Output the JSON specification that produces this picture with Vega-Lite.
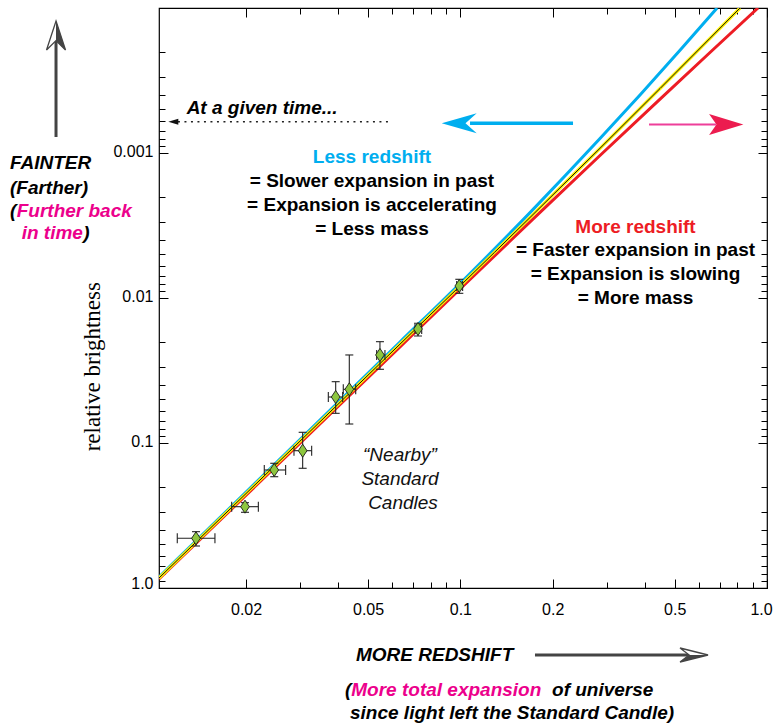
{
  "$schema": "https://vega.github.io/schema/vega-lite/v6.json",
  "width": 608,
  "height": 580,
  "autosize": {"type": "none"},
  "padding": {"left": 159, "top": 8, "right": 7, "bottom": 137},
  "background": "white",
  "config": {
    "view": {"stroke": "black", "strokeWidth": 1.2},
    "font": "Liberation Sans",
    "text": {"font": "Liberation Sans"}
  },
  "datasets": {
    "sn": [
      {"z": 0.01373, "zlo": 0.01193, "zhi": 0.01583, "b": 0.4542, "blo": 0.4089, "bhi": 0.5133},
      {"z": 0.01984, "zlo": 0.01795, "zhi": 0.02193, "b": 0.2749, "blo": 0.2580, "bhi": 0.3005},
      {"z": 0.02471, "zlo": 0.02293, "zhi": 0.02692, "b": 0.1535, "blo": 0.1380, "bhi": 0.1708},
      {"z": 0.03059, "zlo": 0.02866, "zhi": 0.03273, "b": 0.1130, "blo": 0.08437, "bhi": 0.1494},
      {"z": 0.03920, "zlo": 0.03709, "zhi": 0.04131, "b": 0.04817, "blo": 0.03777, "bhi": 0.06241},
      {"z": 0.04342, "zlo": 0.04150, "zhi": 0.04556, "b": 0.04263, "blo": 0.02471, "bhi": 0.07396},
      {"z": 0.05466, "zlo": 0.05333, "zhi": 0.05675, "b": 0.02471, "blo": 0.02001, "bhi": 0.03102},
      {"z": 0.07273, "zlo": 0.07112, "zhi": 0.07478, "b": 0.01636, "blo": 0.01494, "bhi": 0.01829},
      {"z": 0.09920, "zlo": 0.09727, "zhi": 0.1017, "b": 0.008264, "blo": 0.007430, "bhi": 0.009281}
    ],
    "curves": [
      {"model": "accelerating", "z": 0.0104, "b": 0.8396},
      {"model": "accelerating", "z": 0.02998, "b": 0.09461},
      {"model": "accelerating", "z": 0.06353, "b": 0.02010},
      {"model": "accelerating", "z": 0.09897, "b": 0.00807},
      {"model": "accelerating", "z": 0.1687, "b": 0.002576},
      {"model": "accelerating", "z": 0.2853, "b": 0.0007956},
      {"model": "accelerating", "z": 0.3853, "b": 0.0003975},
      {"model": "accelerating", "z": 0.5203, "b": 0.0001954},
      {"model": "accelerating", "z": 0.6871, "b": 0.0001},
      {"model": "bestfit", "z": 0.0104, "b": 0.8531},
      {"model": "bestfit", "z": 0.02998, "b": 0.09718},
      {"model": "bestfit", "z": 0.06353, "b": 0.02082},
      {"model": "bestfit", "z": 0.09897, "b": 0.008395},
      {"model": "bestfit", "z": 0.1687, "b": 0.002785},
      {"model": "bestfit", "z": 0.2853, "b": 0.0009281},
      {"model": "bestfit", "z": 0.4479, "b": 0.0003591},
      {"model": "bestfit", "z": 0.6517, "b": 0.0001618},
      {"model": "bestfit", "z": 0.8166, "b": 0.0001},
      {"model": "decelerating", "z": 0.0104, "b": 0.8669},
      {"model": "decelerating", "z": 0.02998, "b": 0.1003},
      {"model": "decelerating", "z": 0.06353, "b": 0.02174},
      {"model": "decelerating", "z": 0.09897, "b": 0.008806},
      {"model": "decelerating", "z": 0.1687, "b": 0.002987},
      {"model": "decelerating", "z": 0.2853, "b": 0.00104},
      {"model": "decelerating", "z": 0.4479, "b": 0.0004249},
      {"model": "decelerating", "z": 0.6517, "b": 0.0002027},
      {"model": "decelerating", "z": 0.9348, "b": 0.0001}
    ],
    "notes": [
      {"role": "eq", "text": "= Slower expansion in past", "z": 0.05148, "b": 0.001560},
      {"role": "eq", "text": "= Expansion is accelerating", "z": 0.05148, "b": 0.002284},
      {"role": "eq", "text": "= Less mass", "z": 0.05148, "b": 0.003343},
      {"role": "eq", "text": "= Faster expansion in past", "z": 0.3725, "b": 0.004667},
      {"role": "eq", "text": "= Expansion is slowing", "z": 0.3725, "b": 0.006832},
      {"role": "eq", "text": "= More mass", "z": 0.3725, "b": 0.01},
      {"role": "less", "text": "Less redshift", "z": 0.05148, "b": 0.001066},
      {"role": "more", "text": "More redshift", "z": 0.3725, "b": 0.003237},
      {"role": "nearby", "text": "\u201cNearby\u201d", "z": 0.06353, "b": 0.121},
      {"role": "nearby", "text": "Standard", "z": 0.06353, "b": 0.1779},
      {"role": "nearby", "text": "Candles", "z": 0.06499, "b": 0.258},
      {"role": "note", "text": "At a given time...", "z": 0.0128, "b": 0.0004895},
      {"role": "note", "text": "FAINTER", "z": 0.003396, "b": 0.001172},
      {"role": "note", "text": "(Farther)", "z": 0.003396, "b": 0.001743},
      {"role": "note", "text": "(", "z": 0.003396, "b": 0.0025},
      {"role": "note", "text": ")", "z": 0.005891, "b": 0.003562},
      {"role": "note", "text": "MORE REDSHIFT", "z": 0.04565, "b": 2.898},
      {"role": "note", "text": "(", "z": 0.04204, "b": 5.051},
      {"role": "note", "text": "of universe", "z": 0.199, "b": 5.051},
      {"role": "note", "text": "since light left the Standard Candle)", "z": 0.04365, "b": 7.278},
      {"role": "pink", "text": "Further back", "z": 0.003572, "b": 0.0025},
      {"role": "pink", "text": "in time", "z": 0.003709, "b": 0.003562},
      {"role": "pink", "text": "More total expansion", "z": 0.04407, "b": 5.051},
      {"role": "ytitle", "text": "relative brightness", "z": 0.006321, "b": 0.02977}
    ],
    "shafts": [
      {"name": "up", "z": 0.004799, "z2": 0.004799, "b": 0.000776, "b2": 0.0001662},
      {"name": "redshift", "z": 0.1751, "z2": 0.5609, "b": 2.898, "b2": 2.898},
      {"name": "blue", "z": 0.2330, "z2": 0.1075, "b": 0.0006241, "b2": 0.0006241},
      {"name": "pink", "z": 0.4123, "z2": 0.6822, "b": 0.000637, "b2": 0.000637},
      {"name": "dotted", "z": 0.01199, "z2": 0.05805, "b": 0.0006082, "b2": 0.0006082}
    ],
    "heads": [
      {"name": "up", "z": 0.004799, "b": 0.0001547},
      {"name": "redshift", "z": 0.5781, "b": 2.898},
      {"name": "blue", "z": 0.09911, "b": 0.0006241},
      {"name": "pink", "z": 0.7362, "b": 0.0006359},
      {"name": "dotted", "z": 0.01158, "b": 0.0006082}
    ]
  },
  "resolve": {"axis": {"x": "independent", "y": "independent"}},
  "encoding": {
    "x": {"field": "z", "type": "quantitative", "scale": {"type": "log", "domain": [0.0104, 1], "nice": false}, "axis": null},
    "y": {"field": "b", "type": "quantitative", "scale": {"type": "log", "domain": [0.0001, 1], "nice": false, "reverse": true}, "axis": null}
  },
  "layer": [
    {
      "data": {"name": "curves"},
      "transform": [{"filter": "datum.model == 'accelerating'"}],
      "mark": {"type": "line", "color": "#00AEEF", "strokeWidth": 3, "clip": true, "interpolate": "monotone"},
      "encoding": {
        "x": {"field": "z", "type": "quantitative", "scale": {"type": "log", "domain": [0.0104, 1], "nice": false},
          "axis": {"orient": "bottom", "title": null, "domain": false, "grid": false,
            "values": [0.02, 0.03, 0.04, 0.05, 0.06, 0.07, 0.08, 0.09, 0.1, 0.2, 0.3, 0.4, 0.5, 0.6, 0.7, 0.8, 0.9, 1],
            "labelExpr": "datum.value == 1 ? '1.0' : datum.value == 0.5 ? '0.5' : datum.value == 0.2 ? '0.2' : datum.value == 0.1 ? '0.1' : datum.value == 0.05 ? '0.05' : datum.value == 0.02 ? '0.02' : ''",
            "tickSize": {"condition": {"test": "datum.value == 0.02 || datum.value == 0.05 || datum.value == 0.1 || datum.value == 0.2 || datum.value == 0.5 || datum.value == 1", "value": -9}, "value": -6},
            "labelOffset": {"condition": {"test": "datum.value == 1", "value": -6}, "value": 0},
            "tickColor": "black", "tickWidth": 1, "labelFont": "Liberation Sans", "labelFontSize": 16, "labelColor": "black",
            "labelPadding": 22, "labelOverlap": false, "labelFlush": false}},
        "y": {"field": "b", "type": "quantitative", "scale": {"type": "log", "domain": [0.0001, 1], "nice": false, "reverse": true},
          "axis": {"orient": "left", "title": null, "domain": false, "grid": false,
            "values": [0.0002, 0.0003, 0.0004, 0.0005, 0.0006, 0.0007, 0.0008, 0.0009, 0.001, 0.002, 0.003, 0.004, 0.005, 0.006, 0.007, 0.008, 0.009, 0.01, 0.02, 0.03, 0.04, 0.05, 0.06, 0.07, 0.08, 0.09, 0.1, 0.2, 0.3, 0.4, 0.5, 0.6, 0.7, 0.8, 0.9, 1],
            "labelExpr": "datum.value == 1 ? '1.0' : datum.value == 0.1 ? '0.1' : datum.value == 0.01 ? '0.01' : datum.value == 0.001 ? '0.001' : ''",
            "tickSize": {"condition": {"test": "datum.value == 0.001 || datum.value == 0.01 || datum.value == 0.1 || datum.value == 1", "value": -9}, "value": -6},
            "labelOffset": {"condition": {"test": "datum.value == 1", "value": -5}, "value": -2},
            "tickColor": "black", "tickWidth": 1, "labelFont": "Liberation Sans", "labelFontSize": 16, "labelColor": "black",
            "labelPadding": 15, "labelOverlap": false, "labelFlush": false}}
      }
    },
    {
      "data": {"name": "curves"},
      "transform": [{"filter": "datum.model == 'decelerating'"}],
      "mark": {"type": "line", "color": "#ED1C24", "strokeWidth": 3, "clip": true, "interpolate": "monotone"},
      "encoding": {
        "x": {"field": "z", "type": "quantitative", "scale": {"type": "log", "domain": [0.0104, 1], "nice": false},
          "axis": {"orient": "top", "title": null, "domain": false, "grid": false, "labels": false,
            "values": [0.02, 0.03, 0.04, 0.05, 0.06, 0.07, 0.08, 0.09, 0.1, 0.2, 0.3, 0.4, 0.5, 0.6, 0.7, 0.8, 0.9, 1],
            "tickSize": {"condition": {"test": "datum.value == 0.02 || datum.value == 0.05 || datum.value == 0.1 || datum.value == 0.2 || datum.value == 0.5 || datum.value == 1", "value": -9}, "value": -6},
            "tickColor": "black", "tickWidth": 1}},
        "y": {"field": "b", "type": "quantitative", "scale": {"type": "log", "domain": [0.0001, 1], "nice": false, "reverse": true},
          "axis": {"orient": "right", "title": null, "domain": false, "grid": false, "labels": false,
            "values": [0.0002, 0.0003, 0.0004, 0.0005, 0.0006, 0.0007, 0.0008, 0.0009, 0.001, 0.002, 0.003, 0.004, 0.005, 0.006, 0.007, 0.008, 0.009, 0.01, 0.02, 0.03, 0.04, 0.05, 0.06, 0.07, 0.08, 0.09, 0.1, 0.2, 0.3, 0.4, 0.5, 0.6, 0.7, 0.8, 0.9, 1],
            "tickSize": {"condition": {"test": "datum.value == 0.001 || datum.value == 0.01 || datum.value == 0.1 || datum.value == 1", "value": -9}, "value": -6},
            "tickColor": "black", "tickWidth": 1}}
      }
    },
    {
      "data": {"name": "curves"},
      "transform": [{"filter": "datum.model == 'bestfit'"}],
      "mark": {"type": "line", "color": "#FFF200", "strokeWidth": 3.2, "clip": true, "interpolate": "monotone"}
    },
    {
      "data": {"name": "curves"},
      "transform": [{"filter": "datum.model == 'bestfit'"}],
      "mark": {"type": "line", "color": "#111111", "strokeWidth": 1, "clip": true, "interpolate": "monotone"}
    },
    {
      "data": {"name": "sn"},
      "mark": {"type": "rule", "color": "#222222", "strokeWidth": 1.1},
      "encoding": {
        "x": {"field": "zlo", "type": "quantitative", "scale": {"type": "log", "domain": [0.0104, 1], "nice": false}, "axis": null},
        "x2": {"field": "zhi"}
      }
    },
    {
      "data": {"name": "sn"},
      "mark": {"type": "rule", "color": "#222222", "strokeWidth": 1.1},
      "encoding": {
        "y": {"field": "blo", "type": "quantitative", "scale": {"type": "log", "domain": [0.0001, 1], "nice": false, "reverse": true}, "axis": null},
        "y2": {"field": "bhi"}
      }
    },
    {
      "data": {"name": "sn"},
      "mark": {"type": "tick", "orient": "vertical", "color": "#222222", "thickness": 1.1, "size": 10, "opacity": 1},
      "encoding": {
        "x": {"field": "zlo", "type": "quantitative", "scale": {"type": "log", "domain": [0.0104, 1], "nice": false}, "axis": null}
      }
    },
    {
      "data": {"name": "sn"},
      "mark": {"type": "tick", "orient": "vertical", "color": "#222222", "thickness": 1.1, "size": 10, "opacity": 1},
      "encoding": {
        "x": {"field": "zhi", "type": "quantitative", "scale": {"type": "log", "domain": [0.0104, 1], "nice": false}, "axis": null}
      }
    },
    {
      "data": {"name": "sn"},
      "mark": {"type": "tick", "orient": "horizontal", "color": "#222222", "thickness": 1.1, "size": 8, "opacity": 1},
      "encoding": {
        "y": {"field": "blo", "type": "quantitative", "scale": {"type": "log", "domain": [0.0001, 1], "nice": false, "reverse": true}, "axis": null}
      }
    },
    {
      "data": {"name": "sn"},
      "mark": {"type": "tick", "orient": "horizontal", "color": "#222222", "thickness": 1.1, "size": 8, "opacity": 1},
      "encoding": {
        "y": {"field": "bhi", "type": "quantitative", "scale": {"type": "log", "domain": [0.0001, 1], "nice": false, "reverse": true}, "axis": null}
      }
    },
    {
      "data": {"name": "sn"},
      "mark": {"type": "point", "shape": "M0,-1 L0.67,0 L0,1 L-0.67,0 Z", "size": 170, "filled": true, "fill": "#8DC63F", "stroke": "#1a1a1a", "strokeWidth": 0.9, "opacity": 1}
    },
    {
      "data": {"name": "notes"},
      "transform": [{"filter": "datum.role == 'eq'"}],
      "mark": {"type": "text", "font": "Liberation Sans", "fontSize": 19, "fontWeight": "bold", "color": "black", "align": "center", "baseline": "middle"},
      "encoding": {"text": {"field": "text"}}
    },
    {
      "data": {"name": "notes"},
      "transform": [{"filter": "datum.role == 'less'"}],
      "mark": {"type": "text", "font": "Liberation Sans", "fontSize": 19, "fontWeight": "bold", "color": "#00AEEF", "align": "center", "baseline": "middle"},
      "encoding": {"text": {"field": "text"}}
    },
    {
      "data": {"name": "notes"},
      "transform": [{"filter": "datum.role == 'more'"}],
      "mark": {"type": "text", "font": "Liberation Sans", "fontSize": 19, "fontWeight": "bold", "color": "#ED1C24", "align": "center", "baseline": "middle"},
      "encoding": {"text": {"field": "text"}}
    },
    {
      "data": {"name": "notes"},
      "transform": [{"filter": "datum.role == 'nearby'"}],
      "mark": {"type": "text", "font": "Liberation Sans", "fontSize": 19, "fontStyle": "italic", "color": "#111111", "align": "center", "baseline": "middle"},
      "encoding": {"text": {"field": "text"}}
    },
    {
      "data": {"name": "notes"},
      "transform": [{"filter": "datum.role == 'note'"}],
      "mark": {"type": "text", "font": "Liberation Sans", "fontSize": 19, "fontWeight": "bold", "fontStyle": "italic", "color": "black", "align": "left", "baseline": "middle"},
      "encoding": {"text": {"field": "text"}}
    },
    {
      "data": {"name": "notes"},
      "transform": [{"filter": "datum.role == 'pink'"}],
      "mark": {"type": "text", "font": "Liberation Sans", "fontSize": 19, "fontWeight": "bold", "fontStyle": "italic", "color": "#EC008C", "align": "left", "baseline": "middle"},
      "encoding": {"text": {"field": "text"}}
    },
    {
      "data": {"name": "notes"},
      "transform": [{"filter": "datum.role == 'ytitle'"}],
      "mark": {"type": "text", "font": "Liberation Serif", "fontSize": 23, "color": "black", "align": "center", "baseline": "middle", "angle": 270},
      "encoding": {"text": {"field": "text"}}
    },
    {
      "data": {"name": "shafts"},
      "transform": [{"filter": "datum.name == 'up' || datum.name == 'redshift'"}],
      "mark": {"type": "rule", "color": "#444444", "strokeWidth": 3},
      "encoding": {"x2": {"field": "z2"}, "y2": {"field": "b2"}}
    },
    {
      "data": {"name": "shafts"},
      "transform": [{"filter": "datum.name == 'blue'"}],
      "mark": {"type": "rule", "color": "#00AEEF", "strokeWidth": 3.5},
      "encoding": {"x2": {"field": "z2"}, "y2": {"field": "b2"}}
    },
    {
      "data": {"name": "shafts"},
      "transform": [{"filter": "datum.name == 'pink'"}],
      "mark": {"type": "rule", "color": "#EE3F9A", "strokeWidth": 2},
      "encoding": {"x2": {"field": "z2"}, "y2": {"field": "b2"}}
    },
    {
      "data": {"name": "shafts"},
      "transform": [{"filter": "datum.name == 'dotted'"}],
      "mark": {"type": "rule", "color": "#222222", "strokeWidth": 1.5, "strokeDash": [2, 4.5]},
      "encoding": {"x2": {"field": "z2"}, "y2": {"field": "b2"}}
    },
    {
      "data": {"name": "heads"},
      "transform": [{"filter": "datum.name == 'up'"}],
      "mark": {"type": "point", "shape": "M0,-1 L0.655,1 L0,0.35 L-0.655,1 Z", "size": 841, "filled": true, "fill": "white", "stroke": "#444444", "strokeWidth": 1.3, "opacity": 1}
    },
    {
      "data": {"name": "heads"},
      "transform": [{"filter": "datum.name == 'up'"}],
      "mark": {"type": "point", "shape": "M0,-1 L0.655,1 L0,0.35 Z", "size": 841, "filled": true, "fill": "#444444", "strokeWidth": 0, "opacity": 1}
    },
    {
      "data": {"name": "heads"},
      "transform": [{"filter": "datum.name == 'redshift'"}],
      "mark": {"type": "point", "shape": "M1,0 L-1,-0.5 L-0.35,0 L-1,0.5 Z", "size": 784, "filled": true, "fill": "white", "stroke": "#444444", "strokeWidth": 1.3, "opacity": 1}
    },
    {
      "data": {"name": "heads"},
      "transform": [{"filter": "datum.name == 'redshift'"}],
      "mark": {"type": "point", "shape": "M1,0 L-0.35,0 L-1,0.5 Z", "size": 784, "filled": true, "fill": "#444444", "strokeWidth": 0, "opacity": 1}
    },
    {
      "data": {"name": "heads"},
      "transform": [{"filter": "datum.name == 'blue'"}],
      "mark": {"type": "point", "shape": "M-1,0 L1,-0.571 L0.36,0 L1,0.571 Z", "size": 1225, "filled": true, "fill": "#00AEEF", "strokeWidth": 0, "opacity": 1}
    },
    {
      "data": {"name": "heads"},
      "transform": [{"filter": "datum.name == 'pink'"}],
      "mark": {"type": "point", "shape": "M1,0 L-1,-0.61 L-0.57,0 L-1,0.61 Z", "size": 1176, "filled": true, "fill": "#EC1C4F", "strokeWidth": 0, "opacity": 1}
    },
    {
      "data": {"name": "heads"},
      "transform": [{"filter": "datum.name == 'dotted'"}],
      "mark": {"type": "point", "shape": "M-1,0 L1,-0.6 L1,0.6 Z", "size": 100, "filled": true, "fill": "#111111", "strokeWidth": 0, "opacity": 1}
    }
  ]
}
